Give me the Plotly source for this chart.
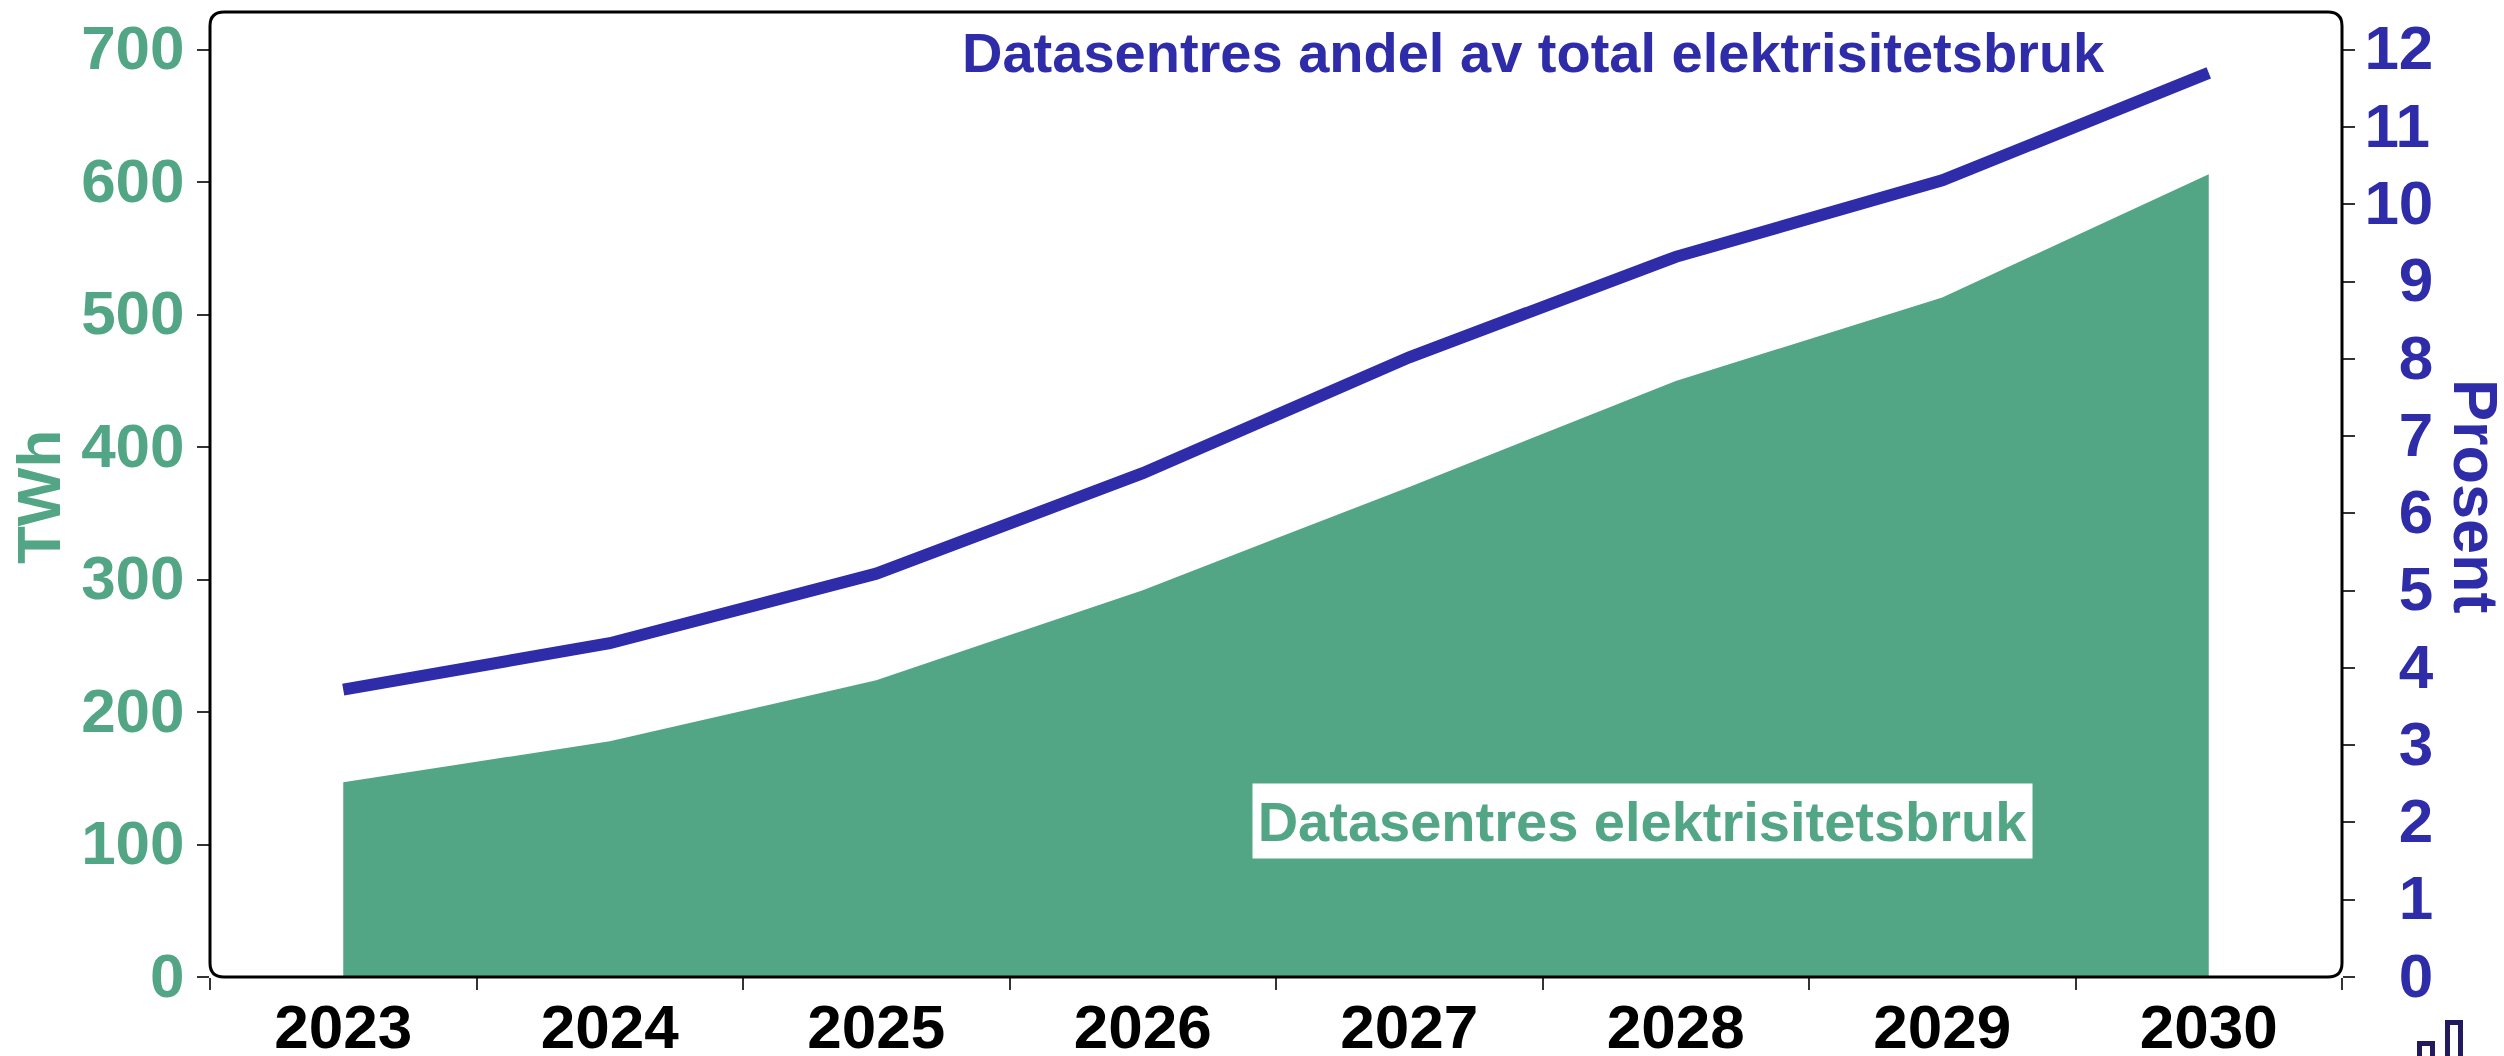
import plotly.graph_objects as go

years = ["2023", "2024", "2025", "2026", "2027", "2028", "2029", "2030"]
twh = [147, 178, 224, 292, 370, 450, 513, 606]
prosent = [3.72, 4.32, 5.22, 6.52, 8.02, 9.32, 10.31, 11.7]
left_ticks = [0, 100, 200, 300, 400, 500, 600, 700]
right_ticks = list(range(0, 13))
title_blue = "Datasentres andel av total elektrisitetsbruk"
title_green = "Datasentres elektrisitetsbruk"
title_left = "TWh"
title_right = "Prosent"

GREEN = "#52A686"
BLUE = "#2E2CA8"
W, H = 2504, 1056
L, R, T, B = 210, 2342, 12, 977
PW, PH = R - L, B - T
px = lambda x: (x - L) / PW
py = lambda y: (B - y) / PH
SANS = "Liberation Sans, Arial, sans-serif"
TICKCOL = "#333333"

fig = go.Figure()
fig.add_trace(go.Scatter(x=years, y=twh, mode="lines", fill="tozeroy", fillcolor=GREEN,
                         line=dict(width=0, color=GREEN), showlegend=False, yaxis="y"))
fig.add_trace(go.Scatter(x=years, y=prosent, mode="lines", line=dict(width=12, color=BLUE),
                         showlegend=False, yaxis="y2"))

r = 14
rx, ry = r / PW, r / PH
frame = (f"M {rx} 0 L {1-rx} 0 Q 1 0 1 {ry} L 1 {1-ry} Q 1 1 {1-rx} 1 L {rx} 1 Q 0 1 0 {1-ry} "
         f"L 0 {ry} Q 0 0 {rx} 0 Z")
shapes = [dict(type="path", xref="paper", yref="paper", path=frame, line=dict(color="black", width=3), layer="above")]
for x0, x1, y0 in [(2419.5, 2432.5, 1043.5), (2447.5, 2460.5, 1022.5)]:
    shapes.append(dict(type="rect", xref="paper", yref="paper", x0=px(x0), x1=px(x1), y0=py(y0), y1=py(1075),
                       line=dict(color="#211A5C", width=5), fillcolor="rgba(0,0,0,0)"))

fig.update_layout(
    width=W, height=H, autosize=False,
    margin=dict(l=L, r=W - R, t=T, b=H - B, pad=0, autoexpand=False),
    paper_bgcolor="white", plot_bgcolor="white",
    shapes=shapes,
    xaxis=dict(type="category", categoryorder="array", categoryarray=years, range=[-0.5, 7.5], automargin=False,
               tickson="boundaries", ticks="outside", ticklen=12, tickwidth=1.5, tickcolor=TICKCOL,
               tickfont=dict(family=SANS, size=62, color="black", weight="bold"), ticklabelstandoff=8,
               showgrid=False, zeroline=False, showline=False),
    yaxis=dict(range=[0, 728.5], tickvals=left_ticks, ticks="outside", ticklen=12, tickwidth=1.5, automargin=False,
               tickcolor=TICKCOL, tickfont=dict(family=SANS, size=62, color=GREEN, weight="bold"), ticklabelshift=-2,
               showgrid=False, zeroline=False, showline=False),
    yaxis2=dict(overlaying="y", side="right", range=[0, 12 * 728.5 / 700], tickvals=right_ticks, automargin=False,
                ticktext=[("\u00a0\u00a0" if v < 10 else "") + str(v) for v in right_ticks],
                ticks="outside", ticklen=12, tickwidth=1.5, tickcolor=TICKCOL, ticklabelshift=-2, ticklabelstandoff=-3,
                tickfont=dict(family=SANS, size=62, color=BLUE, weight="bold"),
                showgrid=False, zeroline=False, showline=False),
    annotations=[
        dict(text=title_blue, xref="paper", yref="paper", x=px(1533), y=py(52), showarrow=False,
             xanchor="center", yanchor="middle", font=dict(family=SANS, size=56, color=BLUE, weight="bold")),
        dict(text=title_green, xref="paper", yref="paper", x=px(1642.5), y=py(821), showarrow=False,
             xanchor="center", yanchor="middle", bgcolor="white", width=777, height=72,
             font=dict(family=SANS, size=56, color=GREEN, weight="bold")),
        dict(text=title_right, xref="paper", yref="paper", x=px(2476), y=py(496), showarrow=False, textangle=90,
             xanchor="center", yanchor="middle", font=dict(family=SANS, size=63, color=BLUE, weight="bold")),
        dict(text=title_left, xref="paper", yref="paper", x=px(38), y=py(497), showarrow=False, textangle=-90,
             xanchor="center", yanchor="middle", font=dict(family=SANS, size=62, color=GREEN, weight="bold")),
    ],
)
post = "document.body.style.margin='0';document.body.style.overflow='hidden';"
fig.write_html("out.html", post_script=post, config=dict(displayModeBar=False))
